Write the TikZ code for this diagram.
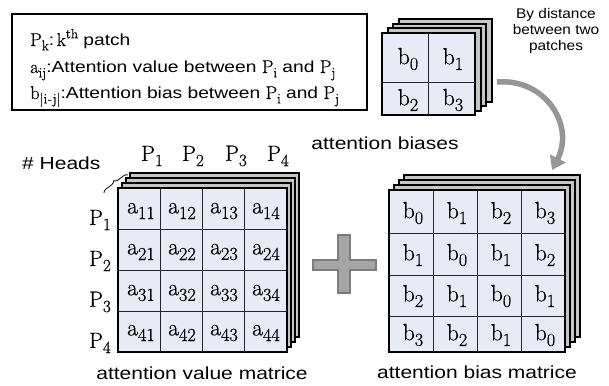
\documentclass[tikz,border=0pt]{standalone}
\usepackage{fontspec}
\setmainfont{Liberation Sans}
\newfontfamily\lab[FakeStretch=1.2]{Liberation Sans}
\newfontfamily\notefont[FakeStretch=1.1]{Liberation Sans}
\newfontfamily\sr[FakeBold=0.6]{Latin Modern Roman}
\usetikzlibrary{arrows.meta,decorations.pathreplacing}
\definecolor{cellfill}{RGB}{232,234,245}
\definecolor{arrowgray}{RGB}{150,150,150}
\definecolor{plusgray}{RGB}{165,165,165}
\definecolor{plusedge}{RGB}{125,125,125}
\newcommand\sbs[2]{{\sr #1\raisebox{-0.24em}{\fontsize{0.78em}{1em}\selectfont #2}}}
\newcommand\sps[2]{{\sr #1\raisebox{0.42em}{\fontsize{0.72em}{1em}\selectfont #2}}}
\tikzset{
  layer/.style={draw=black, fill=gray!45, line width=2pt},
  frontface/.style={draw=black, fill=cellfill, line width=2.8pt},
  gridline/.style={draw=black!85, line width=0.7pt},
  cell/.style={inner sep=0pt, font=\fontsize{23.5}{25}\sr},
  plab/.style={inner sep=0pt, font=\fontsize{22}{24}\sr},
  caption/.style={inner sep=0pt, font=\fontsize{17.5}{21}\lab},
  legendtext/.style={inner sep=0pt, anchor=base west, font=\fontsize{16}{19}\lab},
}
\newcommand\mystack[6]{%
  \foreach \k in {3,2,1}{%
    \draw[layer] ({#1+\k*#5},{#2+\k*#6}) rectangle ({#3+\k*#5},{#4+\k*#6});
  }%
  \draw[frontface] (#1,#2) rectangle (#3,#4);
}
\begin{document}
\begin{tikzpicture}[x=1pt,y=-1pt]
\useasboundingbox (0,0) rectangle (609,385);

% legend box
\draw[line width=1.6pt] (12,14) rectangle (367,110);
\node[legendtext] (l1) at (30,46) {{\fontsize{18.5}{20}\sbs{P}{k}}:\,{\fontsize{18.5}{20}\sps{k}{th}} patch};
\node[legendtext] (l2) at (30,73) {{\fontsize{18.5}{20}\sbs{a}{ij}}:Attention value between {\fontsize{18.5}{20}\sbs{P}{i}} and {\fontsize{18.5}{20}\sbs{P}{j}}};
\node[legendtext] (l3) at (30,99) {{\fontsize{18.5}{20}\sbs{b}{|i\kern0.5pt{-}\kern0.5pt j|}}:Attention bias between {\fontsize{18.5}{20}\sbs{P}{i}} and {\fontsize{18.5}{20}\sbs{P}{j}}};

% small attention biases stack
\mystack{382}{33}{475}{115}{5.5}{-4.5}
\draw[gridline] (428.5,33) -- (428.5,115);
\draw[gridline] (382,82) -- (475,82);
\node[cell] (sb0) at (408,59) {\sbs{b}{0}};
\node[cell] (sb1) at (453,59) {\sbs{b}{1}};
\node[cell] (sb2) at (408,100) {\sbs{b}{2}};
\node[cell] (sb3) at (453,100) {\sbs{b}{3}};
\node[caption] (capb) at (385,143) {attention biases};

% note
\node[inner sep=0pt, align=center, font=\fontsize{14}{16}\notefont] (note) at (556,31) {By distance\\between two\\patches};

% curved arrow
\coordinate (arrS) at (497,82);
\coordinate (arrE) at (552,170);
\draw[line width=5.5pt, arrowgray, -{Triangle[width=17pt,length=13pt]}]
  (arrS) .. controls (545,78) and (575,125) .. (arrE);

% attention value matrix
\mystack{118}{188}{287}{352}{4}{-5}
\foreach \xx in {160.25,202.5,244.75}{\draw[gridline] (\xx,188) -- (\xx,352);}
\foreach \yy in {229,270,311}{\draw[gridline] (118,\yy) -- (287,\yy);}
\foreach \r/\yy in {1/211,2/252,3/293,4/333}{
  \foreach \c/\xx in {1/141,2/182,3/224,4/266}{
    \node[cell] (a\r\c) at (\xx,\yy) {\sbs{a}{\r\c}};
  }
}
\foreach \c/\xx in {1/152,2/193,3/236,4/278}{
  \node[plab] (cp\c) at (\xx,156) {\sbs{P}{\c}};
}
\foreach \r/\yy in {1/220,2/261,3/302,4/343}{
  \node[plab] (rp\r) at (100,\yy) {\sbs{P}{\r}};
}
\node[caption, anchor=west] (heads) at (22,163) {\# Heads};
\coordinate (brA) at (104,193);
\coordinate (brB) at (128,175);
\draw[line width=0.8pt, decorate, decoration={brace, amplitude=4pt}] (brA) -- (brB);
\node[caption] (capa) at (202,373) {attention value matrice};

% plus sign
\draw[draw=plusedge, fill=plusgray, line width=1.2pt]
  (338,235) -- (350,235) -- (350,260) -- (376,260) -- (376,270) -- (350,270)
  -- (350,293) -- (338,293) -- (338,270) -- (313,270) -- (313,260) -- (338,260) -- cycle;

% attention bias matrix
\mystack{389}{190}{565}{352}{5}{-5}
\foreach \xx in {433,477,521}{\draw[gridline] (\xx,190) -- (\xx,352);}
\foreach \yy in {233,275,316}{\draw[gridline] (389,\yy) -- (565,\yy);}
\foreach \r/\yy/\la/\lb/\lc/\ld in {1/213/0/1/2/3,2/255/1/0/1/2,3/296/2/1/0/1,4/335/3/2/1/0}{
  \node[cell] (b\r1) at (413,\yy) {\sbs{b}{\la}};
  \node[cell] (b\r2) at (457,\yy) {\sbs{b}{\lb}};
  \node[cell] (b\r3) at (501,\yy) {\sbs{b}{\lc}};
  \node[cell] (b\r4) at (545,\yy) {\sbs{b}{\ld}};
}
\node[caption] (capm) at (477,372) {attention bias matrice};
\end{tikzpicture}
\end{document}
